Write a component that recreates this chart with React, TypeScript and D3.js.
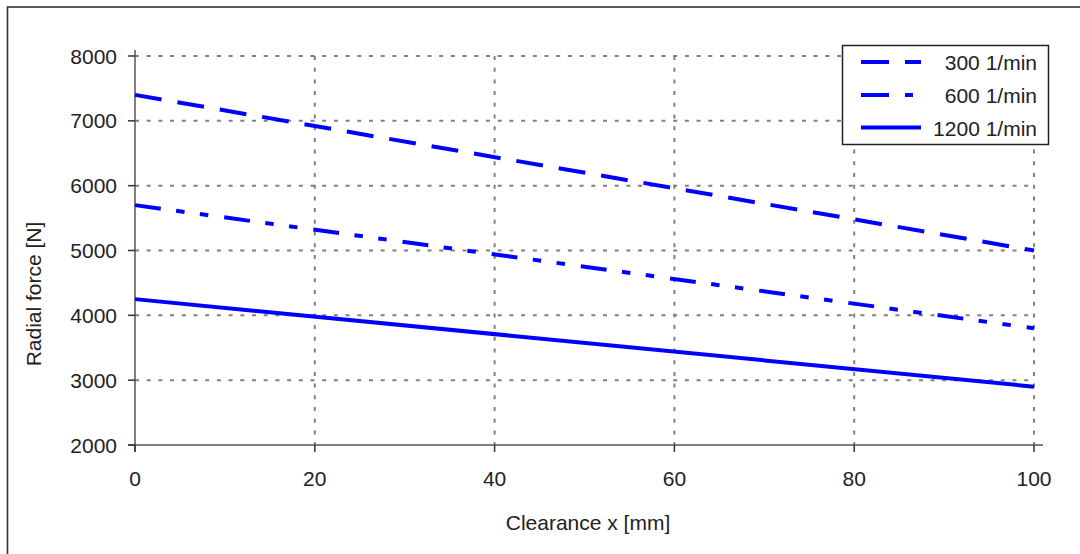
import React from "react";
import * as d3 from "d3";

const xTicks = [0, 20, 40, 60, 80, 100];
const yTicks = [2000, 3000, 4000, 5000, 6000, 7000, 8000];
const clearance = [0, 100];
const force300 = [7400, 5000];
const force600 = [5700, 3800];
const force1200 = [4250, 2900];
const seriesNames = ["300 1/min", "600 1/min", "1200 1/min"];

const W = 1080;
const H = 554;
const FONT = "'Liberation Sans', Arial, sans-serif";

export default function App() {
  const x = d3.scaleLinear().domain([0, 100]).range([135, 1034]);
  const y = d3.scaleLinear().domain([2000, 8000]).range([445, 56]);
  const line = d3
    .line<[number, number]>()
    .x((d) => x(d[0]))
    .y((d) => y(d[1]));
  const series = [
    { name: seriesNames[0], vals: force300, dash: "27,16", legDash: "28,16" },
    { name: seriesNames[1], vals: force600, dash: "26,15.5,8.5,15.5,8.5,16", legDash: "28,16,8,20" },
    { name: seriesNames[2], vals: force1200, dash: "none", legDash: "none" },
  ];
  const legRows = [62, 95, 127.5];
  return (
    <svg
      width={W}
      height={H}
      style={{ position: "absolute", left: 0, top: 0, background: "#fff" }}
      fontFamily={FONT}
    >
      <rect x={7.5} y={7} width={1200} height={700} fill="none" stroke="#333" strokeWidth={1.6} />
      {/* grid */}
      {xTicks.filter((t) => t !== 0).map((t) => (
        <line key={"gx" + t} x1={x(t)} x2={x(t)} y1={y(8000)} y2={y(2000)} stroke="#808080" strokeWidth={2} strokeDasharray="4,7.7" />
      ))}
      {yTicks.filter((t) => t !== 2000).map((t) => (
        <line key={"gy" + t} x1={x(0)} x2={x(100)} y1={y(t)} y2={y(t)} stroke="#808080" strokeWidth={2} strokeDasharray="4,7.7" />
      ))}
      {/* axes */}
      <line x1={x(0)} x2={x(0)} y1={50} y2={452} stroke="#555" strokeWidth={1.5} />
      <line x1={128} x2={1043} y1={y(2000)} y2={y(2000)} stroke="#555" strokeWidth={1.5} />
      {yTicks.map((t) => (
        <g key={"yt" + t}>
          <line x1={128} x2={x(0)} y1={y(t)} y2={y(t)} stroke="#333" strokeWidth={1.5} />
          <text x={117} y={y(t) + 7.5} textAnchor="end" fontSize={21} fill="#222">{t}</text>
        </g>
      ))}
      {xTicks.map((t) => (
        <g key={"xt" + t}>
          <line x1={x(t)} x2={x(t)} y1={y(2000)} y2={452} stroke="#333" strokeWidth={1.5} />
          <text x={x(t)} y={486} textAnchor="middle" fontSize={21} fill="#222">{t}</text>
        </g>
      ))}
      {/* series */}
      {series.map((s) => (
        <path
          key={s.name}
          d={line(clearance.map((c, i) => [c, s.vals[i]] as [number, number])) || ""}
          fill="none"
          stroke="#0000ff"
          strokeWidth={4}
          strokeDasharray={s.dash}
        />
      ))}
      {/* titles */}
      <text x={588} y={530} textAnchor="middle" fontSize={21} fill="#222">Clearance x [mm]</text>
      <text transform="translate(41,294) rotate(-90)" textAnchor="middle" fontSize={21} fill="#222">Radial force [N]</text>
      {/* legend */}
      <rect x={842.5} y={45.5} width={206} height={99} fill="#fff" stroke="#222" strokeWidth={1.5} />
      {series.map((s, i) => (
        <g key={"lg" + s.name}>
          <line x1={861} x2={921} y1={legRows[i]} y2={legRows[i]} stroke="#0000ff" strokeWidth={4} strokeDasharray={s.legDash} />
          <text x={1037} y={legRows[i] + 8} textAnchor="end" fontSize={21} fill="#222">{s.name}</text>
        </g>
      ))}
    </svg>
  );
}
